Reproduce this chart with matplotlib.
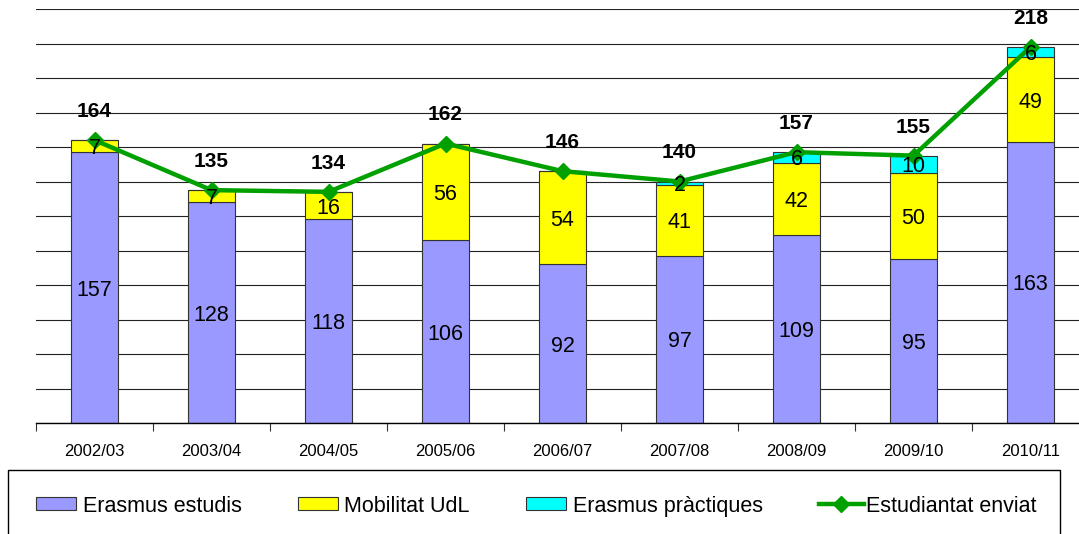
import matplotlib.pyplot as plt
import numpy as np
from matplotlib.patches import Rectangle
from matplotlib.lines import Line2D

plt.rcParams['font.family'] = ['Liberation Sans', 'DejaVu Sans']

cursos = ["2002/03", "2003/04", "2004/05", "2005/06", "2006/07",
          "2007/08", "2008/09", "2009/10", "2010/11"]
erasmus_estudis = [157, 128, 118, 106, 92, 97, 109, 95, 163]
mobilitat_udl = [7, 7, 16, 56, 54, 41, 42, 50, 49]
erasmus_practiques = [0, 0, 0, 0, 0, 2, 6, 10, 6]
estudiantat_enviat = [164, 135, 134, 162, 146, 140, 157, 155, 218]
legend_labels = ["Erasmus estudis", "Mobilitat UdL", "Erasmus pràctiques", "Estudiantat enviat"]

W, H = 1079, 534
fig = plt.figure(figsize=(W / 100, H / 100), dpi=100)
ax = fig.add_axes([36 / W, 1 - 423 / H, 1 - 36 / W, (423 - 9) / H])

x = np.arange(len(cursos))
bw = 0.41
e1 = np.array(erasmus_estudis)
e2 = np.array(mobilitat_udl)
e3 = np.array(erasmus_practiques)
colors = ['#9999FF', '#FFFF00', '#00FFFF']
green = '#00A000'

ax.bar(x, e1, bw, color=colors[0], edgecolor='#333333', linewidth=0.8, zorder=2)
ax.bar(x, e2, bw, bottom=e1, color=colors[1], edgecolor='#333333', linewidth=0.8, zorder=2)
ax.bar(x, e3, bw, bottom=e1 + e2, color=colors[2], edgecolor='#333333', linewidth=0.8, zorder=2)

# labels inside segments
for i in range(len(x)):
    ax.text(x[i], e1[i] / 2, str(e1[i]), ha='center', va='center_baseline',
            fontsize=15.5, zorder=5)
    ax.text(x[i], e1[i] + e2[i] / 2, str(e2[i]), ha='center', va='center_baseline',
            fontsize=15.5, zorder=5)
    if e3[i] > 0:
        ax.text(x[i], e1[i] + e2[i] + e3[i] / 2, str(e3[i]), ha='center',
                va='center_baseline', fontsize=15.5, zorder=5)

ax.plot(x, estudiantat_enviat, color=green, linewidth=3.2, marker='D', markersize=8,
        zorder=4)
for xi, v in zip(x, estudiantat_enviat):
    ax.annotate(str(v), (xi, v), xytext=(0, 22), textcoords='offset points',
                ha='center', va='center_baseline', fontsize=15, fontweight='bold', zorder=6)

ax.set_yticks(np.arange(0, 241, 20))
ax.set_yticklabels([])
ax.tick_params(axis='y', length=0)
ax.grid(axis='y', color='#222222', linewidth=0.8, zorder=0)
ax.set_axisbelow(True)
for s in ['top', 'right', 'left']:
    ax.spines[s].set_visible(False)
ax.spines['bottom'].set_color('black')
ax.spines['bottom'].set_linewidth(1)

ax.set_xticks(np.arange(-0.5, 8, 1))
ax.set_xticklabels([])
ax.tick_params(axis='x', which='major', length=6, direction='out', color='#333333')
ax.set_xticks(x, minor=True)
ax.set_xticklabels(cursos, minor=True, fontsize=12)
ax.tick_params(axis='x', which='minor', length=0, pad=15)
ax.set_ylim(0, 240)
ax.set_xlim(-0.5, 8.5 - 10 / 117)

# legend drawn by hand (box runs off the bottom edge like the reference)
def px(xp, yp):
    return xp / W, 1 - yp / H

fig.patches.append(Rectangle(px(8, 545), (1060 - 8) / W, (545 - 470) / H,
                             transform=fig.transFigure, facecolor='white',
                             edgecolor='black', linewidth=1))
patch_x = [36, 298, 526]
text_x = [83, 344, 573, 866]
for i in range(3):
    fig.patches.append(Rectangle(px(patch_x[i], 510), 40 / W, 13 / H,
                                 transform=fig.transFigure, facecolor=colors[i],
                                 edgecolor='#333333', linewidth=0.8))
lx0, ly0 = px(819, 504)
lx1, _ = px(864, 504)
fig.add_artist(Line2D([lx0, lx1], [ly0, ly0], transform=fig.transFigure, color=green,
                      linewidth=3.2))
fig.add_artist(Line2D([(lx0 + lx1) / 2], [ly0], transform=fig.transFigure, color=green,
                      marker='D', markersize=8))
for tx, lab in zip(text_x, legend_labels):
    fx, fy = px(tx, 512)
    fig.text(fx, fy, lab, ha='left', va='baseline', fontsize=15.5)

fig.savefig("out.png", dpi=100)
